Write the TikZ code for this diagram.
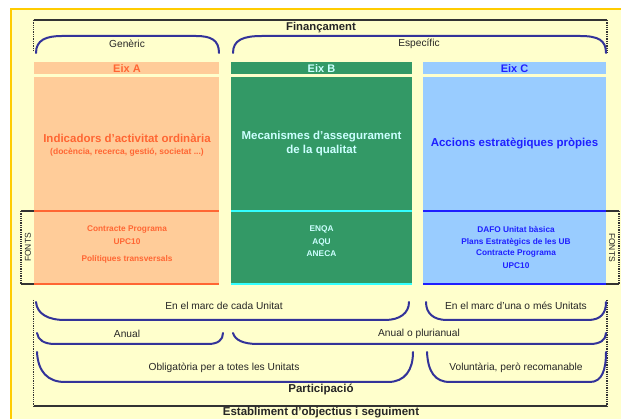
\documentclass[tikz,border=0pt]{standalone}
\usepackage{fontspec}
\setmainfont{Liberation Sans}
\definecolor{bgyellow}{HTML}{FFFFCC}
\definecolor{goldframe}{HTML}{FFCC00}
\definecolor{peach}{HTML}{FFCC99}
\definecolor{orangetxt}{HTML}{FF6633}
\definecolor{greenbox}{HTML}{339966}
\definecolor{cyantxt}{HTML}{CCFFFF}
\definecolor{cyanline}{HTML}{33FFFF}
\definecolor{bluebox}{HTML}{99CCFF}
\definecolor{bluetxt}{HTML}{1F1FFF}
\definecolor{navy}{HTML}{333399}
\definecolor{darkline}{HTML}{333333}
\begin{document}
\begin{tikzpicture}[x=1pt,y=-1pt,
  brk/.style={draw=navy, line width=2pt, line cap=round},
  frameline/.style={draw=darkline, line width=1.3pt},
  dotline/.style={draw=darkline, line width=1.3pt, densely dotted},
  lbl/.style={inner sep=0pt, font=\fontsize{10.2}{12}\selectfont, text=black!85},
  big/.style={inner sep=0pt, font=\fontsize{11.5}{14}\selectfont\bfseries, align=center},
  head/.style={inner sep=0pt, font=\fontsize{11}{13}\selectfont\bfseries},
  item/.style={inner sep=0pt, font=\fontsize{8.3}{10}\selectfont\bfseries},
  sub/.style={inner sep=0pt, font=\fontsize{8.5}{10}\selectfont\bfseries},
  fonts/.style={inner sep=0pt, font=\fontsize{8.5}{10}\selectfont, text=black!85},
  boxA/.style={fill=peach},
  boxB/.style={fill=greenbox},
  boxC/.style={fill=bluebox}]
\useasboundingbox (0,0) rectangle (621,419);
\clip (0,0) rectangle (621,419);
% background frame
\fill[white] (0,0) rectangle (621,419);
\filldraw[fill=bgyellow, draw=goldframe, line width=2pt] (11,9) rectangle (640,440);

% Financament frame
\draw[frameline] (33.5,20) -- (607,20);
\draw[dotline] (33.5,20) -- (33.5,50);
\draw[dotline] (607,20) -- (607,53);
\node[head, font=\fontsize{11.3}{13}\selectfont\bfseries, text=black!85] (fin) at (321,28) {Finançament};

% top brackets
\draw[brk] (36,53) .. controls (36,40) and (46,36) .. (62,36) -- (196,36) .. controls (211,36) and (219,40) .. (219,53);
\draw[brk] (233,53) .. controls (233,40) and (243,36) .. (262,36) -- (580,36) .. controls (598,36) and (606,40) .. (606,53);
\node[lbl] (gen) at (127,44) {Genèric};
\node[lbl] (esp) at (419,44) {Específic};

% header bars
\fill[boxA] (34,62) rectangle (219,74);
\fill[boxB] (231,62) rectangle (412,74);
\fill[boxC] (423,62) rectangle (606,74);
\node[head, text=orangetxt] (eixA) at (127,68.5) {Eix A};
\node[head, text=cyantxt] (eixB) at (321.5,68.5) {Eix B};
\node[head, text=bluetxt] (eixC) at (514.5,68.5) {Eix C};

% main boxes
\fill[boxA] (34,77) rectangle (219,284);
\fill[boxB] (231,77) rectangle (412,284);
\fill[boxC] (423,77) rectangle (606,284);
\draw[orangetxt, line width=1.5pt] (34,211) -- (219,211) (34,284) -- (219,284);
\draw[cyanline, line width=1.5pt] (231,211) -- (412,211) (231,284) -- (412,284);
\draw[bluetxt, line width=1.5pt] (423,211) -- (606,211) (423,284) -- (606,284);

\node[big, text=orangetxt] (tA) at (127,138) {Indicadors d'activitat ordinària};
\node[sub, text=orangetxt] (tA2) at (127,152) {(docència, recerca, gestió, societat ...)};
\node[big, text=cyantxt] (tB) at (321.5,144) {Mecanismes d'assegurament\\de la qualitat};
\node[big, text=bluetxt] (tC) at (514.5,144) {Accions estratègiques pròpies};

% fonts items
\node[item, text=orangetxt] (a1) at (127,229) {Contracte Programa};
\node[item, text=orangetxt] (a2) at (127,242) {UPC10};
\node[item, text=orangetxt] (a3) at (127,259) {Polítiques transversals};
\node[item, text=cyantxt] (b1) at (321.5,229) {ENQA};
\node[item, text=cyantxt] (b2) at (321.5,242) {AQU};
\node[item, text=cyantxt] (b3) at (321.5,253.5) {ANECA};
\node[item, text=bluetxt] (c1) at (516,229) {DAFO Unitat bàsica};
\node[item, text=bluetxt] (c2) at (516,242) {Plans Estratègics de les UB};
\node[item, text=bluetxt] (c3) at (516,253.5) {Contracte Programa};
\node[item, text=bluetxt] (c4) at (516,266) {UPC10};

% FONTS side brackets
\draw[frameline] (21,211) -- (34,211) (21,284) -- (34,284);
\draw[dotline] (21,211) -- (21,284);
\node[fonts, rotate=90] (fl) at (28,247.5) {FONTS};
\draw[frameline] (606,211) -- (619,211) (606,284) -- (619,284);
\draw[dotline] (619,211) -- (619,284);
\node[fonts, rotate=-90] (fr) at (612,247.5) {FONTS};

% bottom frame
\draw[dotline] (33.5,300) -- (33.5,406);
\draw[dotline] (607,300) -- (607,406);
\draw[frameline] (33.5,406) -- (607,406);

% bottom brackets
\draw[brk] (36,302) .. controls (37,314) and (48,320) .. (65,320) -- (385,320) .. controls (400,320) and (409,313) .. (409,302);
\draw[brk] (426,302) .. controls (426,313) and (433,320) .. (447,320) -- (588,320) .. controls (601,320) and (606,313) .. (606,302);
\draw[brk] (37,333) .. controls (38,340) and (44,344) .. (55,344) -- (208,344) .. controls (218,344) and (223,340) .. (223,333);
\draw[brk] (233,333) .. controls (235,340) and (243,344) .. (258,344) -- (590,344) .. controls (600,344) and (606,340) .. (606,333);
\draw[brk] (37,352) .. controls (38,372) and (48,382) .. (65,382) -- (388,382) .. controls (405,382) and (413,370) .. (413,352);
\draw[brk] (427,352) .. controls (428,372) and (435,382) .. (450,382) -- (590,382) .. controls (602,382) and (606,370) .. (606,352);

\node[lbl] (r1a) at (224,306) {En el marc de cada Unitat};
\node[lbl] (r1b) at (516,306) {En el marc d'una o més Unitats};
\node[lbl] (r2a) at (127,334) {Anual};
\node[lbl] (r2b) at (419,334) {Anual o plurianual};
\node[lbl] (r3a) at (224,368) {Obligatòria per a totes les Unitats};
\node[lbl] (r3b) at (516,368) {Voluntària, però recomanable};
\node[head, font=\fontsize{11.5}{13}\selectfont\bfseries, text=black!85] (part) at (321,389) {Participació};
\node[head, font=\fontsize{11.5}{13}\selectfont\bfseries, text=black!85] (estab) at (321,413) {Establiment d'objectius i seguiment};
\end{tikzpicture}
\end{document}
